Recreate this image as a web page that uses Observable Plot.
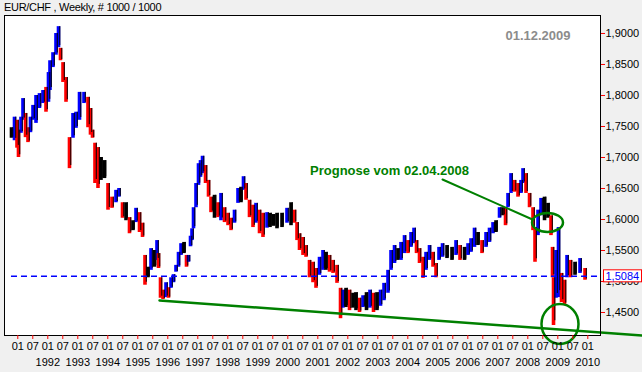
<!DOCTYPE html>
<html><head><meta charset="utf-8">
<script src="https://cdn.jsdelivr.net/npm/d3@7"></script>
<script src="https://cdn.jsdelivr.net/npm/@observablehq/plot@0.6"></script>
<style>
html,body{margin:0;padding:0;background:#f0f0f0;}
#wrap{position:relative;width:642px;height:372px;overflow:hidden;}
#title{position:absolute;left:4px;top:1px;font:11px Arial,"Liberation Sans",sans-serif;letter-spacing:-0.3px;color:#000;white-space:nowrap;}
</style></head><body>
<div id="wrap"><div id="chart"></div><div id="title">EUR/CHF , Weekly, # 1000 / 1000</div></div>
<script>
// weekly bars (decimal year, low, high)
const weekT = [
1990.790,1990.890,1990.973,1991.023,1991.107,1991.173,1991.257,1991.340,1991.423,1991.507,
1991.607,1991.723,1991.840,1991.940,1992.023,1992.073,1992.173,1992.273,1992.357,1992.423,
1992.507,1992.607,1992.723,1992.840,1992.940,1993.057,1993.207,1993.340,1993.423,1993.490,
1993.573,1993.673,1993.773,1993.890,1994.007,1994.140,1994.273,1994.373,1994.490,1994.607,
1994.723,1994.840,1994.940,1995.057,1995.157,1995.240,1995.340,1995.440,1995.557,1995.640,
1995.690,1995.757,1995.840,1995.940,1996.023,1996.107,1996.190,1996.273,1996.357,1996.440,
1996.540,1996.623,1996.690,1996.757,1996.807,1996.857,1996.940,1997.023,1997.090,1997.157,
1997.257,1997.357,1997.440,1997.557,1997.673,1997.773,1997.890,1998.007,1998.107,1998.223,
1998.340,1998.440,1998.523,1998.607,1998.723,1998.840,1998.940,1999.057,1999.173,1999.307,
1999.407,1999.523,1999.640,1999.807,1999.973,2000.107,2000.223,2000.307,2000.390,2000.507,
2000.607,2000.723,2000.840,2000.940,2001.057,2001.173,2001.273,2001.390,2001.507,2001.640,
2001.757,2001.840,2001.940,2002.057,2002.173,2002.273,2002.390,2002.507,2002.623,2002.740,
2002.857,2002.973,2003.090,2003.207,2003.340,2003.440,2003.557,2003.673,2003.773,2003.890,
2004.007,2004.107,2004.207,2004.290,2004.390,2004.507,2004.607,2004.723,2004.840,2004.940,
2005.040,2005.157,2005.307,2005.473,2005.607,2005.740,2005.890,2006.007,2006.107,2006.223,
2006.340,2006.473,2006.607,2006.723,2006.840,2006.940,2007.057,2007.173,2007.257,2007.340,
2007.440,2007.557,2007.673,2007.773,2007.840,2007.940,2008.057,2008.173,2008.240,2008.340,
2008.440,2008.557,2008.673,2008.773,2008.823,2008.857,2008.940,2009.023,2009.123,2009.223,
2009.307,2009.423,2009.573,2009.740,2009.907];
const lowV = [
1.731,1.727,1.715,1.700,1.739,1.760,1.732,1.724,1.740,1.760,
1.755,1.779,1.787,1.773,1.789,1.808,1.845,1.865,1.877,1.856,
1.821,1.789,1.682,1.731,1.747,1.760,1.787,1.748,1.736,1.731,
1.658,1.650,1.663,1.666,1.615,1.618,1.627,1.636,1.602,1.598,
1.577,1.582,1.595,1.579,1.571,1.494,1.506,1.518,1.523,1.534,
1.521,1.473,1.471,1.474,1.473,1.489,1.498,1.515,1.523,1.542,
1.545,1.523,1.531,1.556,1.566,1.585,1.619,1.655,1.668,1.674,
1.658,1.636,1.611,1.602,1.603,1.598,1.595,1.590,1.582,1.594,
1.626,1.627,1.647,1.631,1.603,1.587,1.594,1.577,1.571,1.586,
1.587,1.589,1.585,1.587,1.594,1.590,1.594,1.566,1.550,1.542,
1.539,1.506,1.498,1.489,1.510,1.518,1.518,1.515,1.513,1.497,
1.440,1.457,1.458,1.453,1.457,1.453,1.450,1.458,1.453,1.457,
1.450,1.453,1.460,1.469,1.481,1.518,1.529,1.534,1.534,1.545,
1.545,1.555,1.561,1.545,1.529,1.505,1.518,1.534,1.523,1.506,
1.534,1.539,1.537,1.534,1.542,1.534,1.534,1.542,1.547,1.555,
1.558,1.545,1.555,1.563,1.577,1.579,1.602,1.606,1.590,1.619,
1.642,1.644,1.636,1.642,1.658,1.642,1.619,1.582,1.531,1.574,
1.606,1.598,1.602,1.574,1.506,1.429,1.473,1.474,1.466,1.461,
1.506,1.506,1.510,1.513,1.502];
const highV = [
1.748,1.765,1.760,1.744,1.765,1.795,1.771,1.748,1.765,1.784,
1.800,1.803,1.808,1.813,1.837,1.856,1.869,1.900,1.911,1.876,
1.853,1.829,1.732,1.771,1.773,1.805,1.805,1.797,1.779,1.744,
1.723,1.716,1.700,1.695,1.658,1.636,1.647,1.650,1.627,1.627,
1.603,1.598,1.618,1.611,1.594,1.542,1.523,1.553,1.550,1.566,
1.545,1.506,1.486,1.498,1.490,1.506,1.511,1.526,1.547,1.561,
1.563,1.542,1.542,1.573,1.585,1.619,1.658,1.690,1.695,1.702,
1.687,1.663,1.636,1.639,1.627,1.642,1.619,1.610,1.602,1.615,
1.650,1.652,1.669,1.658,1.631,1.623,1.626,1.615,1.610,1.611,
1.610,1.608,1.610,1.610,1.618,1.627,1.615,1.595,1.577,1.571,
1.558,1.534,1.531,1.521,1.539,1.550,1.547,1.542,1.534,1.526,
1.489,1.486,1.489,1.486,1.481,1.482,1.473,1.477,1.482,1.486,
1.481,1.482,1.486,1.497,1.518,1.550,1.558,1.553,1.563,1.574,
1.566,1.579,1.586,1.566,1.553,1.539,1.547,1.558,1.547,1.529,
1.555,1.561,1.558,1.555,1.566,1.558,1.555,1.561,1.569,1.586,
1.579,1.566,1.579,1.586,1.595,1.598,1.619,1.619,1.619,1.642,
1.674,1.663,1.658,1.663,1.682,1.674,1.642,1.619,1.587,1.615,
1.634,1.636,1.626,1.606,1.555,1.506,1.550,1.587,1.513,1.502,
1.542,1.534,1.531,1.537,1.521];

const lastClose = 1.5084;
const yTicks = [1.45,1.50,1.55,1.60,1.65,1.70,1.75,1.80,1.85,1.90];
const monthLabels = ["01","07"];
const yearLabels = ["1992","1993","1994","1995","1996","1997","1998","1999","2000","2001",
  "2002","2003","2004","2005","2006","2007","2008","2009","2010"];
const supportT = [1995.723, 2011.823];
const supportV = [1.4694, 1.4129];
const prognoseT = [2005.157, 2008.157];
const prognoseV = [1.6645, 1.6000];
const prognoseLabel = [{t: 2003.39, v: 1.6782, text: "Prognose vom 02.04.2008"}];
const dateLabel = ["01.12.2009"];
const ovalTop = [{t: 2008.657, v: 1.5952}];
const ovalBottom = [{t: 2009.073, v: 1.4315}];

const fmt = v => v.toFixed(4).replace(".", ",");
const bars = weekT.map((t, i) => ({t, lo: lowV[i], hi: highV[i]}));
const mids = bars.map(b => (b.lo + b.hi) / 2);
bars.forEach((b, i) => {
  const d = i ? mids[i] - mids[i - 1] : 0;
  b.c = d > 0.004 ? "#0000ff" : d < -0.004 ? "#ff0000" : "#000000";
});
const halfYearTicks = d3.range(1991, 2010.001, 0.5);

function ellipse(ratio) {
  return {draw(ctx, size) {
    const ry = Math.sqrt(size / Math.PI), rx = ry * ratio, k = 0.5523;
    ctx.moveTo(rx, 0);
    ctx.bezierCurveTo(rx, k * ry, k * rx, ry, 0, ry);
    ctx.bezierCurveTo(-k * rx, ry, -rx, k * ry, -rx, 0);
    ctx.bezierCurveTo(-rx, -k * ry, -k * rx, -ry, 0, -ry);
    ctx.bezierCurveTo(k * rx, -ry, rx, -k * ry, rx, 0);
    ctx.closePath();
  }};
}

const green = "#008000";
const chart = Plot.plot({
  width: 642, height: 372,
  marginLeft: 4, marginRight: 42, marginTop: 15, marginBottom: 37,
  style: {background: "#f0f0f0", fontFamily: "Arial, 'Liberation Sans', sans-serif", fontSize: "11px", color: "black"},
  x: {domain: [1990.557, 2010.423], axis: null},
  y: {domain: [1.4129, 1.9290], axis: null},
  color: {type: "identity"},
  marks: [
    Plot.frame({fill: "white"}),
    Plot.ruleX(bars, {x: "t", y1: "lo", y2: "hi", stroke: "c", strokeWidth: 3.6}),
    Plot.ruleX(bars, {x: "t", y1: d => d.lo + (d.hi - d.lo) * 0.1, y2: "hi", stroke: "#000000", strokeWidth: 1, dx: 1.3}),
    Plot.ruleY([lastClose], {y: d => d, x1: weekT[0], x2: 2010.423, stroke: "#0000ff", strokeWidth: 1.5, strokeDasharray: "6,4"}),
    Plot.line(supportT.map((t, i) => ({t, v: supportV[i]})), {x: "t", y: "v", stroke: green, strokeWidth: 2.5}),
    Plot.line(prognoseT.map((t, i) => ({t, v: prognoseV[i]})), {x: "t", y: "v", stroke: green, strokeWidth: 2}),
    Plot.dot(ovalTop, {x: "t", y: "v", r: 9.5, symbol: ellipse(1.63), stroke: green, strokeWidth: 2.5, fill: "none"}),
    Plot.dot(ovalBottom, {x: "t", y: "v", r: 20, symbol: ellipse(0.925), stroke: green, strokeWidth: 2.5, fill: "none"}),
    Plot.text(prognoseLabel, {x: "t", y: "v", text: "text", fill: green, fontWeight: "bold", fontSize: 13}),
    Plot.text(dateLabel, {text: d => d, frameAnchor: "top-right", dx: -30, dy: 15, textAnchor: "end", fill: "#8c8c8c", fontWeight: "bold", fontSize: 13}),
    Plot.frame({stroke: "black"}),
    Plot.axisY(yTicks, {anchor: "right", tickSize: 4, tickPadding: 1, stroke: "#ff0000", color: "black", tickFormat: fmt, label: null}),
    Plot.axisX(halfYearTicks, {anchor: "bottom", tickSize: 4, tickPadding: 3, stroke: "#ff0000", color: "black", tickFormat: d => monthLabels[Math.round(d * 2) % 2], label: null}),
    Plot.axisX(yearLabels.map(Number), {anchor: "bottom", tickSize: 0, tickPadding: 23, color: "black", tickFormat: d => String(d), label: null}),
    Plot.text([lastClose], {y: d => d, text: d => fmt(d), frameAnchor: "right", dx: 5, textAnchor: "start", fill: "#0000ff", fontSize: 11})
  ]
});
document.getElementById("chart").append(chart);

// red-bordered box behind the last value label
const svgRect = chart.getBoundingClientRect();
const txt = Array.from(chart.querySelectorAll("text")).find(t => t.textContent === fmt(lastClose));
if (txt) {
  const bb = txt.getBoundingClientRect();
  const cy = bb.top + bb.height / 2 - svgRect.top;
  const x0 = bb.left - svgRect.left - 2;
  const rect = document.createElementNS("http://www.w3.org/2000/svg", "rect");
  rect.setAttribute("x", x0);
  rect.setAttribute("y", cy - 6);
  rect.setAttribute("width", 641.5 - x0);
  rect.setAttribute("height", 12);
  rect.setAttribute("fill", "white");
  rect.setAttribute("stroke", "#ff0000");
  let g = txt; while (g.parentNode !== chart) g = g.parentNode;
  chart.insertBefore(rect, g);
}
</script></body></html>
